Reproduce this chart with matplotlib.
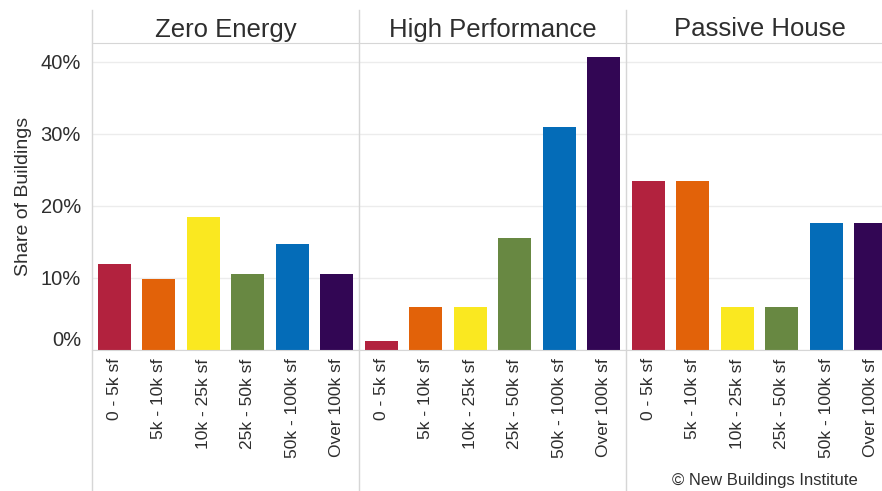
import matplotlib
matplotlib.use('Agg')
import matplotlib.pyplot as plt
import matplotlib.transforms as mtransforms
from matplotlib.lines import Line2D
from matplotlib.ticker import FuncFormatter

plt.rcParams['font.family'] = ['Liberation Sans', 'DejaVu Sans']

# share of buildings (%) by floor area, per certification program
size_bins = ['0 - 5k sf', '5k - 10k sf', '10k - 25k sf', '25k - 50k sf', '50k - 100k sf', 'Over 100k sf']
programs = ['Zero Energy', 'High Performance', 'Passive House']
zero_energy = [11.9, 9.9, 18.5, 10.5, 14.7, 10.5]
high_performance = [1.2, 6.0, 6.0, 15.5, 30.9, 40.6]
passive_house = [23.5, 23.5, 5.9, 5.9, 17.6, 17.6]
bin_colors = ['#b2223e', '#e26209', '#fae820', '#688842', '#046cb8', '#320654']

W, H = 882, 491
fig = plt.figure(figsize=(W / 100, H / 100), dpi=100)

text_col = '#2e2e2e'
line_col = '#d6d6d6'
grid_col = '#ececec'

x0 = 92       # left edge of first panel (px)
pw = 267      # panel width (px)
top = 43      # header underline (px)
base = 350    # zero line (px)
head_top = 10

series = [zero_energy, high_performance, passive_house]
for k, (name, vals) in enumerate(zip(programs, series)):
    left = x0 + k * pw
    ax = fig.add_axes([left / W, (H - base) / H, pw / W, (base - top) / H])
    ax.bar(range(len(size_bins)), vals, width=0.75, color=bin_colors)
    ax.set_xlim(-0.5, len(size_bins) - 0.5)
    ax.set_ylim(0, 42.6)
    ax.set_yticks([0, 10, 20, 30, 40])
    ax.yaxis.set_major_formatter(FuncFormatter(lambda v, p: '{:.0f}%'.format(v)))
    ax.grid(axis='y', color=grid_col, linewidth=1)
    ax.set_axisbelow(True)
    ax.set_xticks(range(len(size_bins)))
    ax.set_xticklabels(size_bins, rotation=90, fontsize=12.5, color=text_col)
    ax.tick_params(axis='x', length=0, pad=6)
    ax.tick_params(axis='y', length=0, pad=8, labelsize=14.5, labelcolor=text_col)
    for s in ['left', 'right']:
        ax.spines[s].set_visible(False)
    ax.spines['top'].set_color(line_col)
    ax.spines['bottom'].set_color(line_col)
    if k == 0:
        ax.set_ylabel('Share of Buildings', fontsize=14, color=text_col, labelpad=6)
        # nudge the 0% label up off the baseline
        lbl = ax.get_yticklabels()[0]
        shift = mtransforms.ScaledTranslation(0, 12 / 100, fig.dpi_scale_trans)
        lbl.set_transform(lbl.get_transform() + shift)
    else:
        ax.tick_params(axis='y', labelleft=False)

    # panel header
    fig.text((left + pw / 2) / W, (H - (head_top + top) / 2 - 3) / H, name,
             ha='center', va='center', fontsize=18.5, color=text_col)

# vertical separators running through header and labels
for k in range(3):
    xf = (x0 + k * pw) / W
    fig.add_artist(Line2D([xf, xf], [0, (H - head_top) / H],
                          transform=fig.transFigure, color=line_col, linewidth=1))

fig.text(858 / W, (H - 481) / H, '\u00a9 New Buildings Institute',
         ha='right', va='center', fontsize=12, color=text_col)

fig.savefig('out.png', dpi=100)
